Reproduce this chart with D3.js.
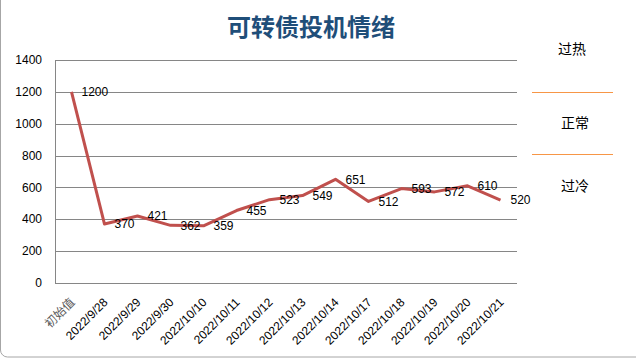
<!DOCTYPE html>
<html>
<head>
<meta charset="utf-8">
<script src="https://cdn.jsdelivr.net/npm/d3@7"></script>
<style>
  body { margin: 0; background: #fff; }
  svg { display: block; }
  text { font-family: "Liberation Sans", Arial, sans-serif; }
</style>
</head>
<body>
<svg id="chart" width="636" height="362" viewBox="0 0 636 362"></svg>
<script>
const categories = ["初始值", "2022/9/28", "2022/9/29", "2022/9/30", "2022/10/10", "2022/10/11",
    "2022/10/12", "2022/10/13", "2022/10/14", "2022/10/17", "2022/10/18", "2022/10/19",
    "2022/10/20", "2022/10/21"];
const values = [1200, 370, 421, 362, 359, 455, 523, 549, 651, 512, 593, 572, 610, 520];
const yTicks = [0, 200, 400, 600, 800, 1000, 1200, 1400];
const zoneLabels = ["过热", "正常", "过冷"];

const svg = d3.select("#chart");
const plot = { left: 55, right: 517, top: 60, bottom: 283 };

// outer chart border (only the left edge shows in the frame)
svg.append("rect")
    .attr("x", 0.5).attr("y", -10)
    .attr("width", 700).attr("height", 367)
    .attr("rx", 7)
    .attr("fill", "none")
    .attr("stroke", "#a6a6a6");

svg.append("text")
    .attr("x", 311).attr("y", 36)
    .attr("text-anchor", "middle")
    .style("font-family", "'Noto Sans CJK SC', sans-serif")
    .style("font-size", "24px")
    .style("font-weight", "bold")
    .attr("fill", "#1f4e79")
    .text("可转债投机情绪");

const x = d3.scalePoint()
    .domain(categories)
    .range([plot.left, plot.right])
    .padding(0.5);

const y = d3.scaleLinear()
    .domain([0, 1400])
    .range([plot.bottom, plot.top]);

// gridlines
svg.append("g")
    .selectAll("line")
    .data(yTicks)
    .enter()
    .append("line")
    .attr("x1", plot.left).attr("x2", plot.right)
    .attr("y1", d => Math.round(y(d)) + 0.5)
    .attr("y2", d => Math.round(y(d)) + 0.5)
    .attr("stroke", "#868686");

svg.append("line")
    .attr("x1", plot.left + 0.5).attr("x2", plot.left + 0.5)
    .attr("y1", plot.top).attr("y2", plot.bottom)
    .attr("stroke", "#868686");

svg.append("g")
    .selectAll("text")
    .data(yTicks)
    .enter()
    .append("text")
    .attr("x", 42)
    .attr("y", d => y(d))
    .attr("dy", "0.35em")
    .attr("text-anchor", "end")
    .style("font-size", "12px")
    .attr("fill", "#000")
    .text(d => d);

// category labels, rotated
svg.append("g")
    .selectAll("text")
    .data(categories)
    .enter()
    .append("text")
    .attr("transform", d => `translate(${x(d) + 4},${plot.bottom + 20}) rotate(-45)`)
    .attr("text-anchor", "end")
    .style("font-family", (d, i) => i === 0 ? "'Noto Sans CJK SC', sans-serif" : "'Liberation Sans', sans-serif")
    .style("font-size", "12px")
    .attr("fill", (d, i) => i === 0 ? "#595959" : "#000")
    .text(d => d);

const line = d3.line()
    .x((d, i) => x(categories[i]))
    .y(d => y(d));

svg.append("path")
    .datum(values)
    .attr("d", line)
    .attr("fill", "none")
    .attr("stroke", "#c0504d")
    .attr("stroke-width", 3)
    .attr("stroke-linejoin", "round");

svg.append("g")
    .selectAll("text")
    .data(values)
    .enter()
    .append("text")
    .attr("x", (d, i) => x(categories[i]) + 10)
    .attr("y", d => y(d))
    .attr("dy", "0.35em")
    .style("font-size", "12px")
    .attr("fill", "#000")
    .text(d => d);

// zone markers on the right
const zoneLines = [92, 154];
svg.append("g")
    .selectAll("line")
    .data(zoneLines)
    .enter()
    .append("line")
    .attr("x1", 532).attr("x2", 613)
    .attr("y1", d => d + 0.5).attr("y2", d => d + 0.5)
    .attr("stroke", "#f79646")
    .attr("stroke-width", 1);

const zoneY = [49, 123, 186];
svg.append("g")
    .selectAll("text")
    .data(zoneLabels)
    .enter()
    .append("text")
    .attr("x", (d, i) => i === 0 ? 572 : 575)
    .attr("y", (d, i) => zoneY[i])
    .attr("dy", "0.35em")
    .attr("text-anchor", "middle")
    .style("font-family", "'Noto Sans CJK SC', sans-serif")
    .style("font-size", "14px")
    .attr("fill", "#000")
    .text(d => d);
</script>
</body>
</html>
